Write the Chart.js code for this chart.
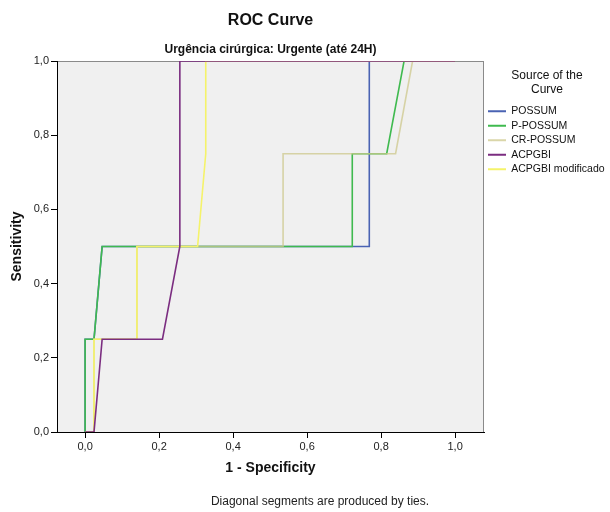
<!DOCTYPE html>
<html>
<head>
<meta charset="utf-8">
<script src="https://cdn.jsdelivr.net/npm/chart.js@4.4.1/dist/chart.umd.min.js"></script>
<style>
  html, body { margin: 0; padding: 0; background: #fff; }
</style>
</head>
<body>
<canvas id="roc" width="610" height="512"></canvas>
<script>
const seriesNames = ['POSSUM', 'P-POSSUM', 'CR-POSSUM', 'ACPGBI', 'ACPGBI modificado'];
const seriesColors = ['#4a63b3', '#3fba4f', 'rgba(205, 200, 140, 0.75)', '#7b2d80', '#f5f36a'];

// 1 - specificity (x) and sensitivity (y)
const possumX = [0, 0, 0.024, 0.046, 0.768, 0.768, 1];
const possumY = [0, 0.25, 0.25, 0.5, 0.5, 1, 1];
const ppossumX = [0, 0, 0.024, 0.046, 0.722, 0.722, 0.815, 0.862, 1];
const ppossumY = [0, 0.25, 0.25, 0.5, 0.5, 0.75, 0.75, 1, 1];
const crpossumX = [0, 0.024, 0.024, 0.14, 0.14, 0.535, 0.535, 0.839, 0.885, 1];
const crpossumY = [0, 0, 0.25, 0.25, 0.5, 0.5, 0.75, 0.75, 1, 1];
const acpgbiX = [0, 0.024, 0.046, 0.209, 0.256, 0.256, 1];
const acpgbiY = [0, 0, 0.25, 0.25, 0.5, 1, 1];
const acpgbiModX = [0, 0.024, 0.024, 0.14, 0.14, 0.304, 0.326, 0.326, 1];
const acpgbiModY = [0, 0, 0.25, 0.25, 0.5, 0.5, 0.75, 1, 1];

const xTicks = [0, 0.2, 0.4, 0.6, 0.8, 1.0];
const yTicks = [0, 0.2, 0.4, 0.6, 0.8, 1.0];

const footnoteText = 'Diagonal segments are produced by ties.';

Chart.defaults.font.family = '"Liberation Sans", Arial, sans-serif';
Chart.defaults.color = '#222';

const toPoints = (xs, ys) => xs.map((x, i) => ({ x: x, y: ys[i] }));
const commaFmt = v => v.toFixed(1).replace('.', ',');

const seriesData = [
    toPoints(possumX, possumY),
    toPoints(ppossumX, ppossumY),
    toPoints(crpossumX, crpossumY),
    toPoints(acpgbiX, acpgbiY),
    toPoints(acpgbiModX, acpgbiModY)
];
// which curve sits on top (lower = drawn later)
const drawOrder = [4, 3, 2, 0, 1];

const plotBg = {
    id: 'plotBg',
    beforeDraw(chart) {
        const { ctx, chartArea: a } = chart;
        ctx.save();
        ctx.fillStyle = '#f0f0f0';
        ctx.fillRect(a.left, a.top, a.right - a.left, a.bottom - a.top);
        ctx.strokeStyle = '#8a8a8a';
        ctx.lineWidth = 1;
        ctx.strokeRect(a.left + 0.5, a.top + 0.5, a.right - a.left - 1, a.bottom - a.top);
        ctx.restore();
    }
};

const footnote = {
    id: 'footnote',
    afterDraw(chart) {
        const ctx = chart.ctx;
        ctx.save();
        ctx.font = '12px "Liberation Sans", Arial, sans-serif';
        ctx.fillStyle = '#222';
        ctx.textAlign = 'center';
        ctx.textBaseline = 'middle';
        ctx.fillText(footnoteText, 320, 502);
        ctx.restore();
    }
};

const rocChart = new Chart(document.getElementById('roc'), {
    type: 'line',
    data: {
        datasets: seriesNames.map((name, i) => ({
            label: name,
            data: seriesData[i],
            borderColor: seriesColors[i],
            backgroundColor: seriesColors[i],
            borderWidth: 1.6,
            pointRadius: 0,
            tension: 0,
            fill: false,
            order: drawOrder[i]
        }))
    },
    options: {
        responsive: false,
        animation: false,
        layout: { padding: 0 },
        plugins: {
            tooltip: { enabled: false },
            title: {
                display: true,
                text: 'ROC Curve',
                fullSize: false,
                color: '#111',
                font: { size: 16, weight: 'bold' },
                padding: { top: 11, bottom: 9 }
            },
            subtitle: {
                display: true,
                text: 'Urgência cirúrgica: Urgente (até 24H)',
                fullSize: false,
                color: '#111',
                font: { size: 12, weight: 'bold' },
                padding: { top: 3.4, bottom: 4 }
            },
            legend: {
                position: 'right',
                align: 'start',
                fullSize: false,
                maxWidth: 126,
                title: {
                    display: true,
                    text: ['Source of the', 'Curve'],
                    color: '#111',
                    font: { size: 12, lineHeight: '14px' },
                    padding: { top: 9, bottom: 18 }
                },
                labels: {
                    boxWidth: 18,
                    boxHeight: 2,
                    padding: 4,
                    color: '#111',
                    font: { size: 10.5 },
                    sort: (a, b) => a.datasetIndex - b.datasetIndex,
                    generateLabels(chart) {
                        const items = Chart.defaults.plugins.legend.labels.generateLabels(chart);
                        items.forEach(it => { it.lineWidth = 0; it.fillStyle = it.strokeStyle; });
                        return items;
                    }
                }
            }
        },
        scales: {
            x: {
                type: 'linear',
                min: -0.076,
                max: 1.078,
                afterBuildTicks: scale => { scale.ticks = xTicks.map(v => ({ value: v })); },
                afterFit: scale => { scale.height = 80; },
                ticks: {
                    callback: v => commaFmt(v),
                    color: '#222',
                    font: { size: 11 },
                    padding: 2
                },
                grid: { drawOnChartArea: false, tickLength: 6, color: '#000' },
                border: { color: '#000', width: 1 },
                title: {
                    display: true,
                    text: '1 - Specificity',
                    color: '#111',
                    font: { size: 14, weight: 'bold' },
                    padding: { top: 0, bottom: 35.6 }
                }
            },
            y: {
                type: 'linear',
                min: 0,
                max: 1,
                afterBuildTicks: scale => { scale.ticks = yTicks.map(v => ({ value: v })); },
                afterFit: scale => { scale.width = 57; },
                ticks: {
                    callback: v => commaFmt(v),
                    color: '#222',
                    font: { size: 11 },
                    padding: 2
                },
                grid: { drawOnChartArea: false, tickLength: 6, color: '#000' },
                border: { color: '#000', width: 1 },
                title: {
                    display: true,
                    text: 'Sensitivity',
                    color: '#111',
                    font: { size: 14, weight: 'bold' },
                    padding: { top: 8.6, bottom: 0 }
                }
            }
        }
    },
    plugins: [plotBg, footnote]
});
</script>
</body>
</html>
